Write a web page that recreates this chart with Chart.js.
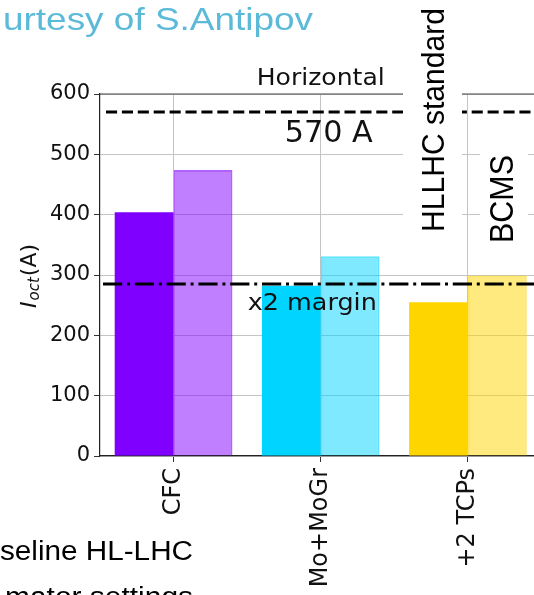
<!DOCTYPE html>
<html><head><meta charset="utf-8">
<script src="https://cdn.jsdelivr.net/npm/chart.js@4"></script>
<style>
html,body{margin:0;padding:0;overflow:hidden;background:#fff;width:534px;height:595px}
#wrap{position:absolute;left:0;top:0;width:560px;height:595px}
</style></head>
<body><div id="wrap"><canvas id="c" width="560" height="595"></canvas></div>
<script>
const categories = ['CFC', 'Mo+MoGr', '+2 TCPs'];
const hllhcStandard = [404, 282, 255];
const bcms = [474, 331, 299];
const yTicks = [0, 100, 200, 300, 400, 500, 600];
const refLines = [570, 285];
const refLabels = ['570 A', 'x2 margin'];
const darkColors = ['#7f00ff', '#00d4ff', '#ffd500'];
const lightColors = ['rgba(127,0,255,0.5)', 'rgba(0,212,255,0.5)', 'rgba(255,213,0,0.5)'];
const lightBorders = ['rgba(127,0,255,0.62)', 'rgba(0,212,255,0.62)', 'rgba(255,213,0,0.62)'];

function fitText(ctx, txt, font, x, y, targetW, rot, color) {
  ctx.save();
  ctx.font = font;
  const w = ctx.measureText(txt).width;
  ctx.translate(x, y);
  if (rot) ctx.rotate(rot);
  ctx.scale(targetW / w, 1);
  ctx.textAlign = 'left';
  ctx.textBaseline = 'alphabetic';
  ctx.fillStyle = color || '#000';
  ctx.fillText(txt, 0, 0);
  ctx.restore();
}

const annot = {
  id: 'annot',
  afterDraw(chart) {
    const {ctx, chartArea: a, scales: {x, y}} = chart;
    ctx.save();
    // top spine
    ctx.strokeStyle = '#444'; ctx.lineWidth = 1.2;
    ctx.beginPath(); ctx.moveTo(a.left, a.top); ctx.lineTo(a.right, a.top); ctx.stroke();
    // reference lines
    ctx.strokeStyle = '#000'; ctx.lineWidth = 3; ctx.lineCap = 'butt';
    const y1 = y.getPixelForValue(refLines[0]);
    ctx.setLineDash([11.1, 4.8]);
    ctx.beginPath(); ctx.moveTo(a.left + 6, y1); ctx.lineTo(a.right, y1); ctx.stroke();
    const y2 = y.getPixelForValue(refLines[1]);
    ctx.setLineDash([19.2, 4.8, 3, 4.8]);
    ctx.beginPath(); ctx.moveTo(a.left + 3, y2); ctx.lineTo(a.right, y2); ctx.stroke();
    ctx.setLineDash([]);
    ctx.restore();

    // matplotlib texts
    fitText(ctx, 'Horizontal', '23px "DejaVu Sans"', (a.left + a.right) / 2 - 64, a.top - 9, 128, 0, '#111');
    fitText(ctx, refLabels[0], '30px "DejaVu Sans"', x.getPixelForValue(1) - 36, y1 + 29.6, 88, 0, '#111');
    fitText(ctx, refLabels[1], '23px "DejaVu Sans"', x.getPixelForValue(1) - 73, y2 + 26, 129, 0, '#111');

    // y axis label I_oct(A)
    ctx.save();
    const cy = (a.top + a.bottom) / 2;
    ctx.translate(36, cy + 33);
    ctx.rotate(-Math.PI / 2);
    ctx.fillStyle = '#111';
    ctx.textBaseline = 'alphabetic';
    ctx.font = 'italic 22px "DejaVu Sans"';
    ctx.fillText('I', 0, 0);
    let w = ctx.measureText('I').width + 1;
    ctx.font = 'italic 15px "DejaVu Sans"';
    ctx.fillText('oct', w, 3);
    w += ctx.measureText('oct').width + 1;
    ctx.font = '22px "DejaVu Sans"';
    ctx.fillText('(A)', w, 0);
    ctx.restore();

    // slide overlays: white boxes behind rotated labels
    ctx.save();
    ctx.fillStyle = '#fff';
    ctx.fillRect(403, 0, 59, 250);
    ctx.fillRect(480, 132, 48, 123);
    ctx.restore();
    fitText(ctx, 'HLLHC standard', '32px "Liberation Sans"', 443.5, 232, 224, -Math.PI / 2, '#000');
    fitText(ctx, 'BCMS', '34px "Liberation Sans"', 513, 243, 88, -Math.PI / 2, '#000');
    fitText(ctx, 'urtesy of S.Antipov', '32px "Liberation Sans"', 3, 30, 310, 0, '#5cbad9');
    fitText(ctx, 'seline HL-LHC', '27px "Liberation Sans"', 0, 560, 193, 0, '#000');
    fitText(ctx, 'mator settings', '27px "Liberation Sans"', 5, 606, 188, 0, '#000');
  }
};

new Chart(document.getElementById('c'), {
  type: 'bar',
  data: {
    labels: categories,
    datasets: [
      {label: 'HLLHC standard', data: hllhcStandard, backgroundColor: darkColors, borderWidth: 0,
       categoryPercentage: 0.8, barPercentage: 1},
      {label: 'BCMS', data: bcms, backgroundColor: lightColors, borderColor: lightBorders, borderWidth: 2,
       borderSkipped: 'start', categoryPercentage: 0.8, barPercentage: 1}
    ]
  },
  options: {
    responsive: false, animation: false, devicePixelRatio: 1,
    layout: {padding: {top: 94, left: 0, right: 18.5, bottom: 0}},
    plugins: {legend: {display: false}, tooltip: {enabled: false}},
    scales: {
      x: {
        z: 1, offset: true,
        grid: {offset: false, color: '#c4c4c4', lineWidth: 1, tickLength: 6, tickColor: '#333'},
        border: {color: '#222', width: 1.2},
        ticks: {minRotation: 90, maxRotation: 90, padding: 6, color: '#111',
                font: {family: 'DejaVu Sans', size: 24}},
        afterFit(s) { s.height = 139; s.paddingLeft = 0; s.paddingRight = 0; }
      },
      y: {
        z: 1, min: 0, max: 600,
        afterBuildTicks(s) { s.ticks = yTicks.map(v => ({value: v})); },
        grid: {color: '#c4c4c4', lineWidth: 1, tickLength: 6, tickColor: '#333'},
        border: {color: '#222', width: 1.2},
        ticks: {padding: 4, color: '#111', font: {family: 'DejaVu Sans', size: 21}},
        afterFit(s) { s.width = 100; s.paddingTop = 0; s.paddingBottom = 0; }
      }
    }
  },
  plugins: [annot]
});
</script>
</body></html>
